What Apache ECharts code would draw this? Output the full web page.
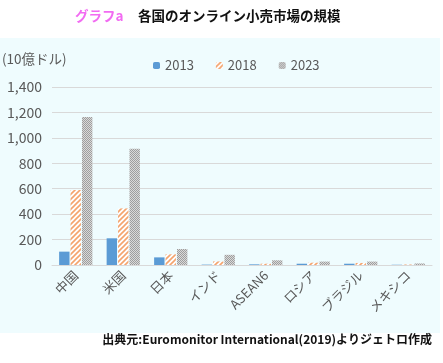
<!DOCTYPE html>
<html><head><meta charset="utf-8">
<script src="https://cdn.jsdelivr.net/npm/echarts@6/dist/echarts.min.js"></script>
<style>html,body{margin:0;padding:0;background:#fff}#c{width:443px;height:363px}</style>
</head><body><div id="c"></div>
<script>
const categories = ['中国','米国','日本','インド','ASEAN6','ロシア','ブラジル','メキシコ'];
const seriesNames = ['2013','2018','2023'];
const v2013 = [105, 210, 60, 3, 5, 10, 10, 2];
const v2018 = [590, 445, 84, 28, 10, 18, 16, 4];
const v2023 = [1165, 915, 126, 80, 37, 27, 27, 12];
const yTicks = [0, 200, 400, 600, 800, 1000, 1200, 1400];

function hatch(){
  const c = document.createElement('canvas'); c.width = 5; c.height = 5;
  const g = c.getContext('2d');
  g.fillStyle = '#ffffff'; g.fillRect(0,0,5,5);
  g.strokeStyle = '#F4A46E'; g.lineWidth = 1.6;
  g.beginPath();
  g.moveTo(-1,6); g.lineTo(6,-1);
  g.moveTo(-1,1); g.lineTo(1,-1);
  g.moveTo(4,6); g.lineTo(6,4);
  g.stroke();
  return c;
}
function checker(){
  const c = document.createElement('canvas'); c.width = 2; c.height = 2;
  const g = c.getContext('2d');
  g.fillStyle = '#D9D9D9'; g.fillRect(0,0,2,2);
  g.fillStyle = '#9E9E9E'; g.fillRect(0,0,1,1); g.fillRect(1,1,1,1);
  return c;
}
const FONT = '"Noto Sans CJK JP", "Noto Sans", sans-serif';
const chart = echarts.init(document.getElementById('c'), null, {renderer:'canvas'});
chart.setOption({
  animation: false,
  backgroundColor: '#ffffff',
  textStyle: {fontFamily: FONT},
  graphic: [
    {type:'rect', shape:{x:0, y:38, width:440, height:295}, style:{fill:'#EFFCFE'}, z:-10},
    {type:'text', left:75, top:9, style:{text:'グラフa', fill:'#F26BF2', font:'bold 13.5px ' + FONT}},
    {type:'text', left:138, top:9, style:{text:'各国のオンライン小売市場の規模', fill:'#111', font:'bold 13.5px ' + FONT}},
    {type:'text', left:2, top:52, style:{text:'(10億ドル)', fill:'#595959', font:'13.5px ' + FONT}},
    {type:'text', right:11, top:333, style:{text:'出典元:Euromonitor International(2019)よりジェトロ作成', fill:'#111', font:'bold 12px ' + FONT}}
  ],
  legend: {
    top: 54, left: 148, itemWidth: 7, itemHeight: 7, itemGap: 22,
    textStyle: {color:'#595959', fontSize: 13, fontFamily: FONT},
    data: seriesNames
  },
  grid: {left: 52, right: 11, top: 87, bottom: 98, containLabel: false},
  xAxis: {
    type: 'category', data: categories,
    axisLine: {lineStyle:{color:'#D9D9D9'}},
    axisTick: {show:false},
    axisLabel: {rotate: 45, color:'#595959', fontSize: 13, margin: 8, interval: 0}
  },
  yAxis: {
    type: 'value', min: 0, max: 1400, interval: 200,
    axisLine: {show:false}, axisTick:{show:false},
    splitLine: {lineStyle:{color:'#D9D9D9'}},
    axisLabel: {color:'#595959', fontSize: 14, margin: 10,
      formatter: v => yTicks.includes(v) ? v.toLocaleString('en-US') : ''}
  },
  series: [
    {name: seriesNames[0], type:'bar', data: v2013, barGap:'10%', barCategoryGap:'30%', itemStyle:{color:'#5B9BD5'}},
    {name: seriesNames[1], type:'bar', data: v2018, itemStyle:{color:{image: hatch(), repeat:'repeat'}}},
    {name: seriesNames[2], type:'bar', data: v2023, itemStyle:{color:{image: checker(), repeat:'repeat'}}}
  ]
});
</script></body></html>
